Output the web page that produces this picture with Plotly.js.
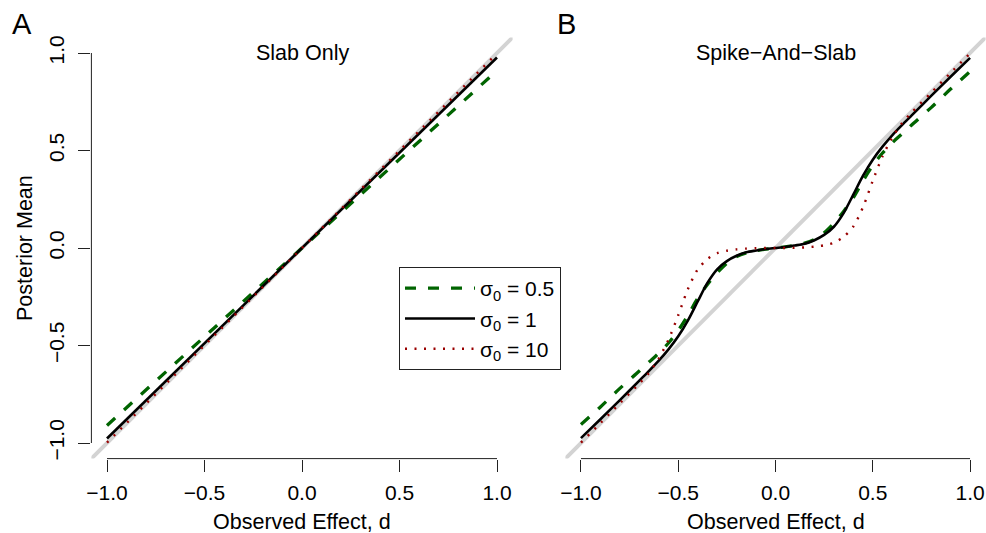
<!DOCTYPE html>
<html>
<head>
<meta charset="utf-8">
<script src="https://cdn.plot.ly/plotly-3.0.1.min.js"></script>
<style>html,body{margin:0;padding:0;background:#fff;}#chart{width:986px;height:533px;}</style>
</head>
<body>
<div id="chart"></div>
<script>
// ---- data ----
const xTicks = [-1, -0.5, 0, 0.5, 1];
const xTickText = ["\u22121.0", "\u22120.5", "0.0", "0.5", "1.0"];
const yTicks = [-1, -0.5, 0, 0.5, 1];
const yTickText = ["\u22121.0", "\u22120.5", "0.0", "0.5", "1.0"];
const seriesNames = ["\u03c3<sub>0</sub> = 0.5", "\u03c3<sub>0</sub> = 1", "\u03c3<sub>0</sub> = 10"];
const identityLine = [-1.1, 1.1];

// Panel A: Slab Only
const dA = [-1, -0.5, 0, 0.5, 1];
const slabSigma05 = [-0.91, -0.455, 0, 0.455, 0.91];
const slabSigma1 = [-0.977, -0.488, 0, 0.488, 0.977];
const slabSigma10 = [-0.998, -0.499, 0, 0.499, 0.998];

// Panel B: Spike-And-Slab
const dB = [-1, -0.9, -0.8, -0.7, -0.65, -0.6, -0.55, -0.5, -0.45, -0.4, -0.35, -0.3, -0.25, -0.2, -0.15, -0.1, -0.05,
            0, 0.05, 0.1, 0.15, 0.2, 0.25, 0.3, 0.35, 0.4, 0.45, 0.5, 0.55, 0.6, 0.65, 0.7, 0.8, 0.9, 1];
const spikeSigma05 = [-0.905, -0.815, -0.72, -0.631, -0.585, -0.539, -0.487, -0.423, -0.345, -0.258, -0.187, -0.127, -0.078, -0.044, -0.025, -0.014, -0.006,
                      0, 0.006, 0.014, 0.025, 0.044, 0.078, 0.127, 0.187, 0.258, 0.345, 0.423, 0.487, 0.539, 0.585, 0.631, 0.72, 0.815, 0.905];
const spikeSigma1 = [-0.975, -0.878, -0.78, -0.68, -0.63, -0.578, -0.52, -0.453, -0.371, -0.274, -0.179, -0.109, -0.067, -0.04, -0.022, -0.013, -0.005,
                     0, 0.005, 0.013, 0.022, 0.04, 0.067, 0.109, 0.179, 0.274, 0.371, 0.453, 0.52, 0.578, 0.63, 0.68, 0.78, 0.878, 0.975];
const spikeSigma10 = [-0.998, -0.898, -0.796, -0.695, -0.64, -0.566, -0.47, -0.345, -0.21, -0.11, -0.057, -0.027, -0.014, -0.007, -0.003, -0.001, 0,
                      0, 0, 0.001, 0.003, 0.007, 0.014, 0.027, 0.057, 0.11, 0.21, 0.345, 0.47, 0.566, 0.64, 0.695, 0.796, 0.898, 0.998];

// ---- styles ----
const FONT = "Liberation Sans, Arial, Helvetica, sans-serif";
const AX = "#222";
const styles = [
  {color: "#006400", width: 3.3, dash: "11px,12px"},
  {color: "#000000", width: 2.6, dash: "solid"},
  {color: "#990000", width: 2.4, dash: "2px,7.5px"}
];
const W = 986, H = 533;
const px = v => v / W;
const py = v => 1 - v / H;

const domA = [px(91.4), px(512.6)];
const domB = [px(565.4), px(985.6)];
const domY = [py(458.6), py(37.4)];
const R = [-1.08, 1.08];

function curve(x, y, i, xa, ya, legend, shape) {
  return {x: x, y: y, xaxis: xa, yaxis: ya, mode: "lines", type: "scatter",
    name: seriesNames[i], showlegend: legend, hoverinfo: "skip",
    line: {color: styles[i].color, width: styles[i].width, dash: styles[i].dash, shape: shape, smoothing: 0.8}};
}
function diag(xa, ya) {
  return {x: identityLine, y: identityLine, xaxis: xa, yaxis: ya, mode: "lines", type: "scatter",
    showlegend: false, hoverinfo: "skip", line: {color: "#d3d3d3", width: 4}};
}

const data = [
  diag("x", "y"),
  curve(dA, slabSigma05, 0, "x", "y", true, "linear"),
  curve(dA, slabSigma1, 1, "x", "y", true, "linear"),
  curve(dA, slabSigma10, 2, "x", "y", true, "linear"),
  diag("x2", "y2"),
  curve(dB, spikeSigma05, 0, "x2", "y2", false, "spline"),
  curve(dB, spikeSigma1, 1, "x2", "y2", false, "spline"),
  curve(dB, spikeSigma10, 2, "x2", "y2", false, "spline")
];

const xAxisBase = {
  range: R, showgrid: false, zeroline: false, showline: false,
  ticks: "outside", ticklen: 12, tickwidth: 1, tickcolor: AX,
  tickvals: xTicks, ticktext: xTickText, ticklabelstandoff: 3,
  tickfont: {family: FONT, size: 21, color: "#000"}
};

const layout = {
  width: W, height: H,
  margin: {l: 0, r: 0, t: 0, b: 0},
  paper_bgcolor: "#fff", plot_bgcolor: "#fff",
  font: {family: FONT, color: "#000"},
  xaxis: Object.assign({}, xAxisBase, {domain: domA, anchor: "y"}),
  xaxis2: Object.assign({}, xAxisBase, {domain: domB, anchor: "y2"}),
  yaxis: {
    range: R, domain: domY, anchor: "x", showgrid: false, zeroline: false, showline: false,
    ticks: "outside", ticklen: 12, tickwidth: 1, tickcolor: AX,
    tickvals: yTicks, ticktext: yTickText, tickangle: -90, ticklabelstandoff: 6,
    tickfont: {family: FONT, size: 21, color: "#000"}
  },
  yaxis2: {range: R, domain: domY, anchor: "x2", visible: false},
  showlegend: true,
  legend: {
    x: px(399), y: py(267), xanchor: "left", yanchor: "top",
    bordercolor: AX, borderwidth: 1, bgcolor: "#fff",
    font: {family: FONT, size: 21, color: "#000"},
    itemwidth: 70,
    traceorder: "normal", tracegroupgap: 0
  },
  shapes: [
    {type: "line", xref: "x", yref: "paper", x0: xTicks[0], x1: xTicks[xTicks.length - 1], y0: domY[0], y1: domY[0], line: {color: AX, width: 1}},
    {type: "line", xref: "x2", yref: "paper", x0: xTicks[0], x1: xTicks[xTicks.length - 1], y0: domY[0], y1: domY[0], line: {color: AX, width: 1}},
    {type: "line", xref: "paper", yref: "y", x0: domA[0], x1: domA[0], y0: yTicks[0], y1: yTicks[yTicks.length - 1], line: {color: AX, width: 1}}
  ],
  annotations: [
    {text: "A", x: px(22), y: py(24), xref: "paper", yref: "paper", showarrow: false, xanchor: "center", yanchor: "middle", font: {family: FONT, size: 29}},
    {text: "B", x: px(566.5), y: py(24), xref: "paper", yref: "paper", showarrow: false, xanchor: "center", yanchor: "middle", font: {family: FONT, size: 29}},
    {text: "Slab Only", x: px(302), y: py(52.5), xref: "paper", yref: "paper", showarrow: false, xanchor: "center", yanchor: "middle", font: {family: FONT, size: 21.5}},
    {text: "Spike\u2212And\u2212Slab", x: px(775.5), y: py(52.5), xref: "paper", yref: "paper", showarrow: false, xanchor: "center", yanchor: "middle", font: {family: FONT, size: 21.5}},
    {text: "Observed Effect, d", x: px(302), y: py(522), xref: "paper", yref: "paper", showarrow: false, xanchor: "center", yanchor: "middle", font: {family: FONT, size: 21.5}},
    {text: "Observed Effect, d", x: px(775.5), y: py(522), xref: "paper", yref: "paper", showarrow: false, xanchor: "center", yanchor: "middle", font: {family: FONT, size: 21.5}},
    {text: "Posterior Mean", x: px(25), y: py(248), xref: "paper", yref: "paper", showarrow: false, xanchor: "center", yanchor: "middle", textangle: -90, font: {family: FONT, size: 21.5}}
  ]
};

Plotly.newPlot("chart", data, layout, {staticPlot: true, displayModeBar: false});
</script>
</body>
</html>
